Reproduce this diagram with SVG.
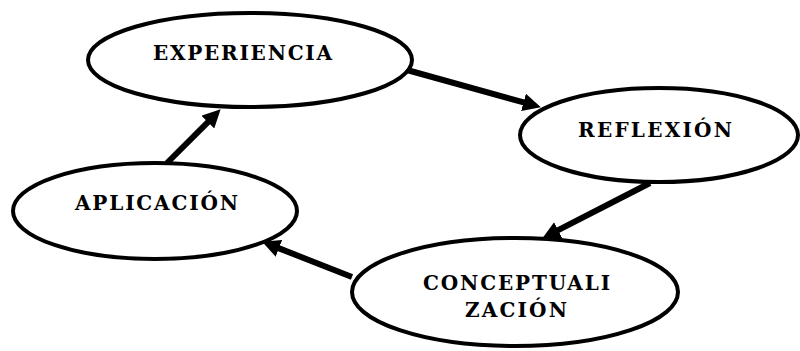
<svg xmlns="http://www.w3.org/2000/svg" width="800" height="351" viewBox="0 0 800 351">
<style>
.node{fill:#fff;stroke:#000;stroke-width:4}
.lbl{font-family:"DejaVu Serif","Liberation Serif",serif;font-weight:bold;font-size:20px;fill:#000}
.con{stroke:#000;stroke-width:6;fill:none;marker-end:url(#ah)}
</style>
<defs>
<marker id="ah" markerUnits="userSpaceOnUse" markerWidth="18" markerHeight="18" viewBox="0 0 16 16" refX="1" refY="8" orient="auto">
<path d="M0,0 L16,8 L0,16 z" fill="#000"/>
</marker>
</defs>
<rect width="800" height="351" fill="#fff"/>
<g id="connectors">
<line class="con" x1="407" y1="70" x2="524.6" y2="102.7"/>
<line class="con" x1="650" y1="183" x2="557.2" y2="230.7"/>
<line class="con" x1="352" y1="277" x2="277.9" y2="247.9"/>
<line class="con" x1="167" y1="163" x2="208.7" y2="121.3"/>
</g>
<g id="experiencia">
<ellipse class="node" cx="250" cy="60" rx="162" ry="47"/>
<text class="lbl" x="153" y="60" textLength="179" lengthAdjust="spacing">EXPERIENCIA</text>
</g>
<g id="reflexion">
<ellipse class="node" cx="659" cy="135" rx="139" ry="47"/>
<text class="lbl" x="578" y="137" textLength="154" lengthAdjust="spacing">REFLEXIÓN</text>
</g>
<g id="aplicacion">
<ellipse class="node" cx="155" cy="211" rx="142" ry="48"/>
<text class="lbl" x="75" y="210" textLength="163" lengthAdjust="spacing">APLICACIÓN</text>
</g>
<g id="conceptualizacion">
<ellipse class="node" cx="515" cy="292" rx="163" ry="54"/>
<text class="lbl" x="423" y="290" textLength="187" lengthAdjust="spacing">CONCEPTUALI</text>
<text class="lbl" x="465" y="317" textLength="102" lengthAdjust="spacing">ZACIÓN</text>
</g>
</svg>
